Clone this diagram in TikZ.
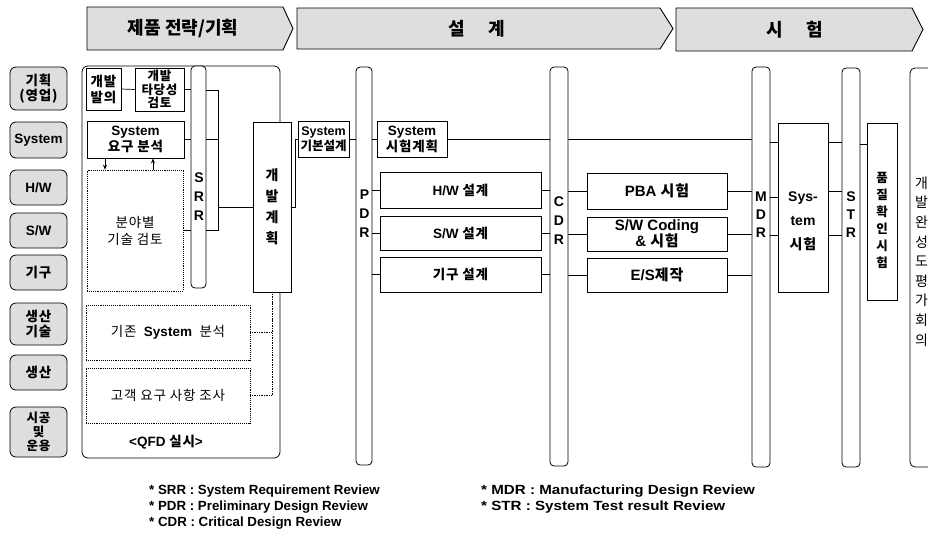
\documentclass[tikz,border=0pt]{standalone}
\usepackage{fontspec}
\setmainfont{Liberation Sans}
\newfontfamily\kr[LetterSpace=6]{Noto Sans CJK KR}
\newfontfamily\krtight{Noto Sans CJK KR}
\newfontfamily\widefont[FakeStretch=1.14]{Liberation Sans}
\usetikzlibrary{arrows.meta}
\newcommand\K[1]{{\kr #1}}
\tikzset{
  hdr/.style={draw, line width=0.9pt, fill=gray!26},
  hdrtxt/.style={inner sep=0pt, font=\krtight\bfseries\fontsize{18}{20}\selectfont},
  role/.style={draw, line width=0.8pt, rounded corners=6pt, fill=gray!26, inner sep=0pt, align=center,
    minimum width=57pt, font=\bfseries\fontsize{13.5}{15}\selectfont},
  box/.style={draw, line width=0.9pt, fill=white, inner sep=0pt, align=center,
    font=\bfseries\fontsize{13.5}{16}\selectfont},
  dbox/.style={box, densely dotted, line width=0.7pt, font=\fontsize{13.5}{17}\selectfont},
  bar/.style={draw, line width=0.8pt, rounded corners=4pt, fill=white, inner sep=0pt},
  barlbl/.style={inner sep=0pt, align=center, font=\bfseries\fontsize{14}{19}\selectfont},
  lbl/.style={inner sep=0pt, align=center},
  conn/.style={line width=0.7pt},
  dconn/.style={line width=0.7pt, densely dotted},
  foot/.style={inner sep=0pt, anchor=west, font=\bfseries\fontsize{13.3}{15}\selectfont}
}
\begin{document}
\begin{tikzpicture}[x=1pt,y=-1pt]
\useasboundingbox (0,0) rectangle (928,539);

% ---- header arrows
\draw[hdr] (87,7) -- (283,7) -- (293,28.5) -- (283,50) -- (87,50) -- cycle;
\draw[hdr] (297,8) -- (660,8) -- (673,28.5) -- (660,49) -- (297,49) -- cycle;
\draw[hdr] (676,8) -- (912,8) -- (923,29.5) -- (912,51) -- (676,51) -- cycle;
\node[hdrtxt] (h1) at (183,28.5) {제품 전략/기획};
\node[hdrtxt] (h2) at (477,28.5) {설\hspace{1.3em}계};
\node[hdrtxt] (h3) at (795,29.5) {시\hspace{1.3em}험};

% ---- role column
\node[role, minimum height=43pt] (r1) at (38.5,88.5) {\K{기획}\\\K{(영업)}};
\node[role, minimum height=36pt] (r2) at (38.5,140) {System};
\node[role, minimum height=35pt] (r3) at (38.5,187.5) {H/W};
\node[role, minimum height=35pt] (r4) at (38.5,230.5) {S/W};
\node[role, minimum height=35pt] (r5) at (38.5,272.5) {\K{기구}};
\node[role, minimum height=42pt] (r6) at (38.5,324) {\K{생산}\\\K{기술}};
\node[role, minimum height=35pt] (r7) at (38.5,372.5) {\K{생산}};
\node[role, minimum height=50pt, font=\bfseries\fontsize{12.5}{14}\selectfont] (r8) at (38.5,432) {\K{시공}\\\K{및}\\\K{운용}};

% ---- planning container
\draw[line width=0.8pt, rounded corners=6pt] (82,66) rectangle (280,458);
\node[lbl, font=\bfseries\fontsize{13.5}{15}\selectfont] (qfd) at (166,442) {<QFD \K{실시}>};

\node[box, minimum width=35pt, minimum height=42pt] (n1) at (103.5,89) {\K{개발}\\\K{발의}};
\node[box, minimum width=49pt, minimum height=43pt, font=\bfseries\fontsize{12.5}{13.5}\selectfont] (n2) at (159.5,89.5) {\K{개발}\\\K{타당성}\\\K{검토}};
\node[box, minimum width=97pt, minimum height=37pt] (n3) at (135.5,139.5) {System\\\K{요구 분석}};
\node[dbox, minimum width=96pt, minimum height=121pt] (n4) at (135,230.5) {\K{분야별}\\\K{기술 검토}};
\node[dbox, minimum width=164pt, minimum height=55pt] (n6) at (168,332.5) {\K{기존}\ \ \textbf{System}\ \ \K{분석}};
\node[dbox, minimum width=164pt, minimum height=55pt] (n7) at (168,395.5) {\K{고객 요구 사항 조사}};

\draw[conn] (n1.east) -- (n2.west);
\draw[conn, -{Stealth[length=5pt,width=4pt]}] ([xshift=-30.5pt]n3.south) -- ([xshift=-30.5pt]n3.south |- n4.north);
\draw[conn, -{Stealth[length=5pt,width=4pt]}] ([xshift=17.5pt]n3.south |- n4.north) -- ([xshift=17.5pt]n3.south);

% SRR
\node[bar, minimum width=15pt, minimum height=222pt] (srr) at (198.5,177) {};
\node[barlbl] (srrl) at (199,197) {S\\R\\R};
\draw[conn] (n2.east) -- (n2.east -| srr.west);
\draw[conn] (n3.east) -- (n3.east -| srr.west);
\draw[conn] (n4.east) -- (n4.east -| srr.west);
\coordinate (b1) at (218,90);
\draw[conn] (srr.east |- b1) -- (b1) -- (b1 |- n4.east) -- (srr.east |- n4.east);
\draw[conn] (srr.east |- n3.east) -- (b1 |- n3.east);

% 개발계획
\node[box, minimum width=38pt, minimum height=170pt, font=\krtight\bfseries\fontsize{14}{21}\selectfont] (n5) at (272,207) {개\\발\\계\\획};
\draw[conn] (b1 |- n5.west) -- (n5.west);
\draw[dconn] (n6.east) -| (n5.south);
\draw[dconn] (n7.east) -| (n5.south);

% System 기본설계
\node[box, minimum width=51pt, minimum height=36pt, font=\bfseries\fontsize{12.5}{15}\selectfont] (n8) at (323.5,139) {System\\{\krtight 기본설계}};
\coordinate (b2) at (295,207);
\draw[conn] (n5.east |- b2) -- (b2) -- (b2 |- n8.west) -- (n8.west);

% PDR
\node[bar, minimum width=16pt, minimum height=398pt] (pdr) at (364,266) {};
\node[barlbl] (pdrl) at (364.5,213.5) {P\\D\\R};
\draw[conn] (n8.east) -- (n8.east -| pdr.west);

\node[box, minimum width=70pt, minimum height=36pt] (n9) at (412,139) {System\\\K{시험계획}};
\draw[conn] (pdr.east |- n9.west) -- (n9.west);

\node[box, minimum width=161pt, minimum height=36pt] (hw) at (460.5,190) {H/W \K{설계}};
\node[box, minimum width=161pt, minimum height=34pt] (sw) at (460.5,233) {S/W \K{설계}};
\node[box, minimum width=161pt, minimum height=35pt] (gi) at (460.5,274.5) {\K{기구 설계}};
\foreach \n in {hw,sw,gi} \draw[conn] (pdr.east |- \n.west) -- (\n.west);

% CDR
\node[bar, minimum width=18pt, minimum height=399pt] (cdr) at (559,266.5) {};
\node[barlbl] (cdrl) at (559,221) {C\\D\\R};
\foreach \n in {hw,sw,gi} \draw[conn] (\n.east) -- (\n.east -| cdr.west);
\draw[conn] (n9.east) -- (n9.east -| cdr.west);

\node[box, minimum width=140pt, minimum height=36pt, font=\bfseries\fontsize{15}{16}\selectfont] (pba) at (657,191) {PBA \K{시험}};
\node[box, minimum width=140pt, minimum height=34pt, font=\bfseries\fontsize{15}{16}\selectfont] (swc) at (657,234) {S/W Coding\\\& \K{시험}};
\node[box, minimum width=140pt, minimum height=34pt, font=\bfseries\fontsize{15}{16}\selectfont] (es) at (657,275) {E/S\K{제작}};
\foreach \n in {pba,swc,es} \draw[conn] (cdr.east |- \n.west) -- (\n.west);

% MDR
\node[bar, minimum width=18pt, minimum height=400pt] (mdr) at (761,267) {};
\node[barlbl, font=\bfseries\fontsize{14}{18}\selectfont] (mdrl) at (761,215) {M\\D\\R};
\foreach \n in {pba,swc,es} \draw[conn] (\n.east) -- (\n.east -| mdr.west);
\draw[conn] (cdr.east |- n9.east) -- (mdr.west |- n9.east);

% System 시험
\node[box, minimum width=50pt, minimum height=169pt] (syst) at (803,207.5) {};
\node[lbl, font=\bfseries\fontsize{14}{24}\selectfont] (systl) at (803,221) {Sys-\\tem\\\K{시험}};
\coordinate (y1) at (0,142);
\coordinate (y2) at (0,197);
\coordinate (y3) at (0,235);
\coordinate (y4) at (0,191);
\draw[conn] (mdr.east |- y1) -- (syst.west |- y1);
\draw[conn] (mdr.east |- y2) -- (syst.west |- y2);
\draw[conn] (mdr.east |- y3) -- (syst.west |- y3);

% STR
\node[bar, minimum width=18pt, minimum height=399pt] (str) at (851,267.5) {};
\node[barlbl, font=\bfseries\fontsize{14}{18}\selectfont] (strl) at (851,215) {S\\T\\R};
\draw[conn] (syst.east |- y1) -- (str.west |- y1);
\draw[conn] (syst.east |- y4) -- (str.west |- y4);
\draw[conn] (syst.east |- y3) -- (str.west |- y3);

% 품질확인시험
\node[box, minimum width=30pt, minimum height=177pt] (qc) at (882,211.5) {};
\node[lbl, font=\krtight\bfseries\fontsize{12.5}{17}\selectfont] (qcl) at (882,220) {품\\질\\확\\인\\시\\험};
\draw[conn] (str.east |- 0,144) -- (qc.west |- 0,144);

% 개발 완성도 평가 회의 (cut at right edge)
\draw[line width=0.8pt, rounded corners=5pt] (945,467) -- (910,467) -- (910,68) -- (945,68);
\node[lbl, font=\krtight\fontsize{14}{19.6}\selectfont] (evl) at (921.5,261.5) {개\\발\\완\\성\\도\\평\\가\\회\\의};

% ---- footnotes
\node[foot] (f1) at (149,491) {* SRR : System Requirement Review};
\node[foot] (f2) at (149,507) {* PDR : Preliminary Design Review};
\node[foot] (f3) at (149,523) {* CDR : Critical Design Review};
\node[foot, font=\widefont\bfseries\fontsize{13.3}{15}\selectfont] (f4) at (481,491) {* MDR : Manufacturing Design Review};
\node[foot, font=\widefont\bfseries\fontsize{13.3}{15}\selectfont] (f5) at (481,507) {* STR : System Test result Review};
\end{tikzpicture}
\end{document}
